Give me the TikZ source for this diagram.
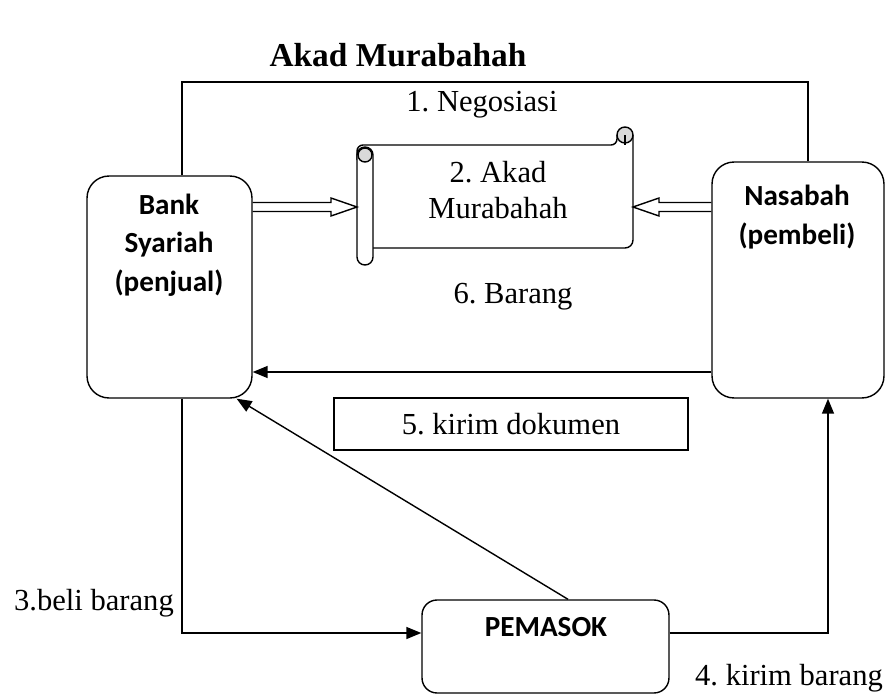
\documentclass[tikz,border=0pt]{standalone}
\usepackage{fontspec}
\setmainfont{Liberation Serif}
\newfontfamily\calibri{Carlito}
\usetikzlibrary{arrows.meta,calc,positioning}
\frenchspacing
\tikzset{
  roundbox/.style={draw,rounded corners=0.44cm,inner sep=0pt},
  lbl/.style={font=\fontsize{17.4}{20.5}\selectfont,align=center},
  sanslbl/.style={font=\calibri\fontsize{16.6}{22}\selectfont\bfseries,align=center},
  judul/.style={font=\fontsize{19}{23}\selectfont\bfseries},
  arr/.style={-{Triangle[length=0.3cm,width=0.24cm]}},
  blockarrow/.style={to path={
    ($(\tikztostart)!0.09cm!90:(\tikztotarget)$)
    -- ($(\tikztotarget)!0.52cm!(\tikztostart)!0.09cm!90:(\tikztotarget)$)
    -- ($(\tikztotarget)!0.52cm!(\tikztostart)!0.18cm!90:(\tikztotarget)$)
    -- (\tikztotarget)
    -- ($(\tikztotarget)!0.52cm!(\tikztostart)!0.18cm!-90:(\tikztotarget)$)
    -- ($(\tikztotarget)!0.52cm!(\tikztostart)!0.09cm!-90:(\tikztotarget)$)
    -- ($(\tikztostart)!0.09cm!-90:(\tikztotarget)$)}}
}
\begin{document}
\begin{tikzpicture}[x=0.02cm,y=-0.02cm,line width=0.8pt]
  \useasboundingbox (0,0) rectangle (894,697);
  \node[judul] (title) at (398,55) {Akad Murabahah};

  \node[roundbox,minimum width=3.3cm,minimum height=4.44cm] (bank) at (169.5,287) {};
  \node[sanslbl] (banktxt) at (169,245) {Bank\\Syariah\\(penjual)};
  \node[roundbox,minimum width=3.44cm,minimum height=4.72cm] (nasabah) at (798,280) {};
  \node[sanslbl] (nasabahtxt) at (797,217) {Nasabah\\(pembeli)};
  \node[roundbox,rounded corners=0.3cm,minimum width=4.94cm,minimum height=1.86cm] (pemasok) at (545.5,646.5) {};
  \node[sanslbl] (pemasoktxt) at (546,627) {PEMASOK};
  \node[lbl,draw,inner sep=0pt,minimum width=7.08cm,minimum height=1.04cm] (dokumen) at (511,424) {5. kirim dokumen};

  \node[lbl] (akad) at (498,190) {2. Akad\\Murabahah};
  \draw[rounded corners=0.16cm] (373,248) -- (633,248) -- (633,135);
  \draw[rounded corners=0.12cm] (357,160) -- (357,145) -- (617,145) -- (617,135);
  \draw[fill=gray!30] (625,135) circle (0.16cm);
  \draw (625,135) -- (625,145);
  \draw[fill=white,rounded corners=0.16cm] (357,147) rectangle (373,265);
  \draw[fill=gray!30] (365,155) circle (0.14cm);

  \coordinate (bankr) at (bank.east |- 0,207);
  \coordinate (akadl) at (357,207);
  \coordinate (akadr) at (633,207);
  \coordinate (nasabahl) at (nasabah.west |- 0,207);
  \draw[blockarrow] (bankr) to (akadl);
  \draw[blockarrow] (nasabahl) to (akadr);

  \node[lbl] (nego) at (482,105) {1. Negosiasi};
  \draw (bank.north -| 182,0) -- (182,82) -- (808,82) -- (nasabah.north -| 808,0);

  \node[lbl] (barang) at (513,297) {6. Barang};
  \draw[arr] (nasabah.west |- 0,372) -- (bank.east |- 0,372);
  \draw[arr] (pemasok.north -| 568,0) -- (bank.-59);

  \draw[arr] (bank.south -| 182,0) |- (pemasok.west |- 0,633);
  \draw[arr] (pemasok.east |- 0,633) -| (nasabah.south -| 828,0);
  \node[lbl] (beli) at (94,603) {3.beli barang};
  \node[lbl] (kirim) at (789,678) {4. kirim barang};
\end{tikzpicture}
\end{document}
